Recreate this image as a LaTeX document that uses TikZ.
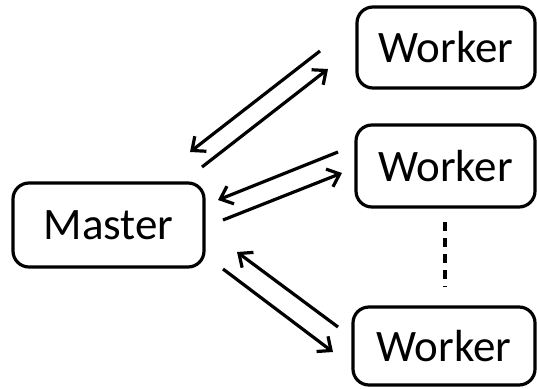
\documentclass[tikz,border=0pt]{standalone}
\usepackage{fontspec}
\setmainfont{Carlito}
\usetikzlibrary{arrows.meta}
\begin{document}
\begin{tikzpicture}[x=1pt,y=-1pt,
  box/.style={draw=black,line width=3.2pt,rounded corners=16pt,fill=white,inner sep=0pt,font=\fontsize{45}{50}\selectfont},
  link/.style={line width=3.2pt,-{Straight Barb[length=11pt,width=19pt,line width=3.2pt]}},
  dots/.style={line width=3.4pt,dash pattern=on 9pt off 7pt}]
\useasboundingbox[fill=white] (0,0) rectangle (537,388);
\node[box,minimum width=191pt,minimum height=84pt] (master) at (108.5,225) {Master};
\node[box,minimum width=178pt,minimum height=81pt] (w1) at (446,47.5) {Worker};
\node[box,minimum width=179pt,minimum height=82pt] (w2) at (445.5,166) {Worker};
\node[box,minimum width=182pt,minimum height=78pt] (w3) at (444,346) {Worker};
% arrow end points
\coordinate (a1s) at (320,51);  \coordinate (a1e) at (190,152);
\coordinate (b1s) at (202,167); \coordinate (b1e) at (328,69);
\coordinate (a2s) at (338,152); \coordinate (a2e) at (218,200);
\coordinate (b2s) at (223,220); \coordinate (b2e) at (342,173);
\coordinate (a3s) at (338,327); \coordinate (a3e) at (237,252);
\coordinate (b3s) at (223,269); \coordinate (b3e) at (333,352);
\coordinate (d1) at (445,222);  \coordinate (d2) at (445,287);
\draw[link] (a1s) -- (a1e);
\draw[link] (b1s) -- (b1e);
\draw[link] (a2s) -- (a2e);
\draw[link] (b2s) -- (b2e);
\draw[link] (a3s) -- (a3e);
\draw[link] (b3s) -- (b3e);
\draw[dots] (d1) -- (d2);
\end{tikzpicture}
\end{document}
